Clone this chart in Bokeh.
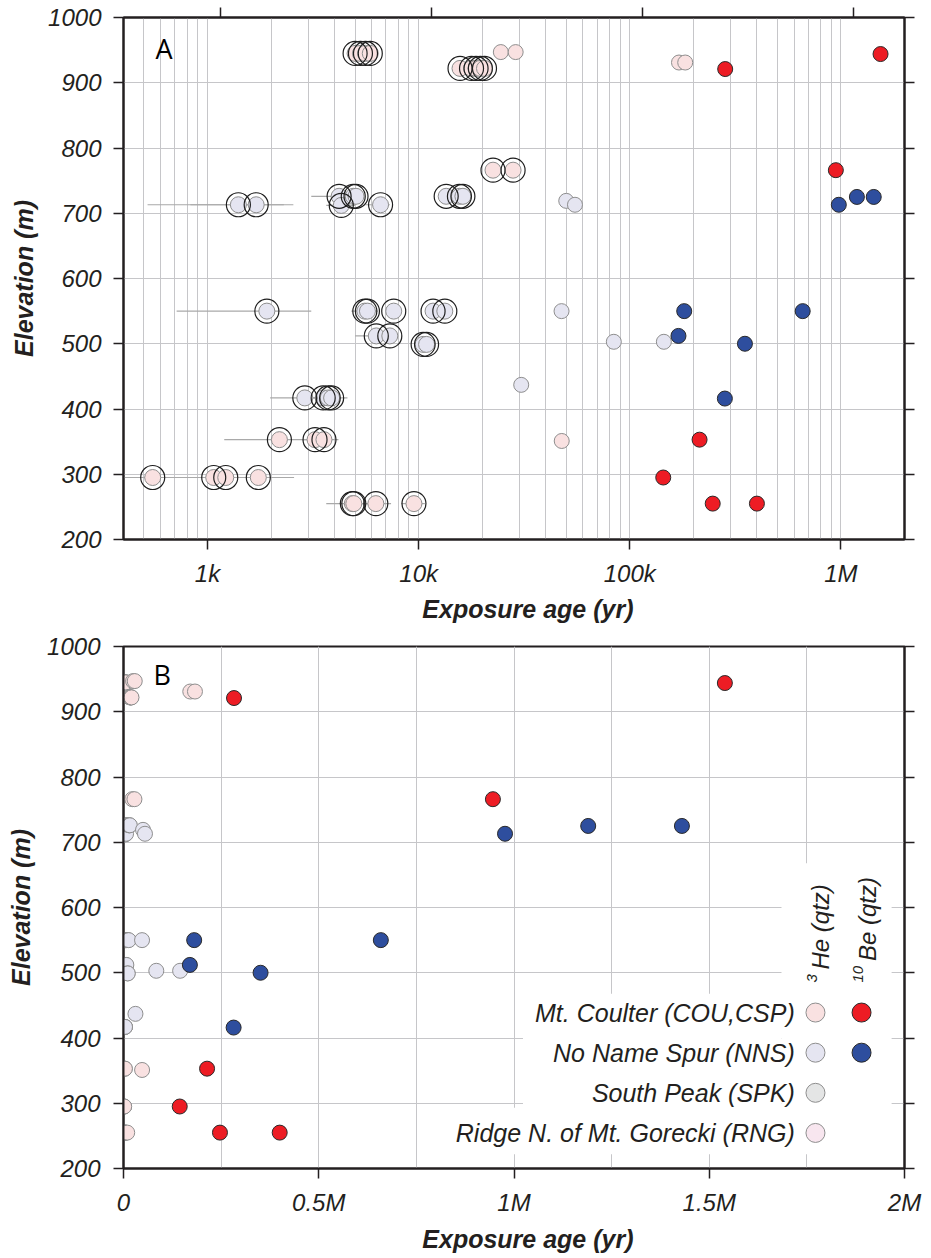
import numpy as np
from bokeh.plotting import figure
from bokeh.models import (Range1d, FixedTicker, LinearAxis, LogAxis, LogScale,
                          ColumnDataSource, CustomJSTickFormatter)
from bokeh.layouts import column
from bokeh.embed import file_html
from bokeh.resources import INLINE
from bokeh.core.properties import value

# ---------------- data ----------------
# 3He (qtz) exposure ages shown with an outer ring in panel A (yr)
he_ring_age = [5000, 5300, 5600, 5900,
               15700, 17800, 18700, 19600, 20500,
               22500, 28000,
               1400, 1700, 4200, 4300, 4900, 5050, 6600, 13500, 15600, 16200,
               1910, 5560, 5720, 7620, 11700, 13300,
               6300, 7300,
               10500, 10900,
               2890, 3530, 3730, 3870,
               2190, 3230, 3560,
               550, 1070, 1220, 1740,
               4850, 4930, 6270, 9500]
he_ring_elev = [945, 945, 945, 945,
                922, 922, 922, 922, 922,
                766, 766,
                713, 713, 726, 712, 726, 726, 713, 726, 726, 726,
                550, 550, 550, 550, 550, 550,
                512, 512,
                499, 499,
                417, 417, 417, 417,
                353, 353, 353,
                295, 295, 295, 295,
                255, 255, 255, 255]
he_ring_site = ["COU", "COU", "COU", "COU",
                "COU", "COU", "COU", "COU", "COU",
                "COU", "COU",
                "NNS", "NNS", "NNS", "NNS", "NNS", "NNS", "NNS", "NNS", "NNS", "NNS",
                "NNS", "NNS", "NNS", "NNS", "NNS", "NNS",
                "NNS", "NNS",
                "NNS", "NNS",
                "NNS", "NNS", "NNS", "NNS",
                "COU", "COU", "COU",
                "COU", "COU", "COU", "COU",
                "COU", "COU", "COU", "COU"]
he_ring_lo = [4500, 5300, 5600, 5900,
              15700, 17800, 18700, 19600, 20500,
              22500, 28000,
              520, 830, 3100, 3650, 4900, 5050, 5600, 13500, 15600, 16200,
              714, 4800, 5720, 7620, 11700, 13300,
              5000, 7300,
              10500, 10900,
              1980, 3530, 3730, 3000,
              1200, 3230, 2800,
              350, 500, 1220, 1100,
              3650, 4930, 5200, 8300]
he_ring_hi = [4500, 5300, 5600, 6400,
              15700, 17800, 18700, 19600, 20500,
              22500, 28000,
              2300, 2550, 5000, 5000, 4900, 5050, 7300, 13500, 15600, 16200,
              3100, 6400, 5720, 7620, 11700, 13300,
              7200, 7300,
              10500, 10900,
              3800, 3530, 3730, 4600,
              3200, 3230, 4170,
              800, 1700, 1220, 2570,
              6000, 4930, 7400, 10700]

# 3He (qtz) exposure ages without ring (yr)
he_age = [24500, 28800, 171000, 183000, 47600,
          50000, 55000, 47500, 84000, 145000, 30600]
he_elev = [947, 947, 931, 931, 351,
           719, 713, 550, 503, 503, 437]
he_site = ["COU", "COU", "COU", "COU", "COU",
           "NNS", "NNS", "NNS", "NNS", "NNS", "NNS"]

# 10Be (qtz) exposure ages (yr)
be_age = [283000, 1540000, 946000, 214000, 144000, 247000, 400000,
          977000, 1190000, 1430000, 181000, 659000, 170000, 351000, 282000]
be_elev = [921, 944, 766, 353, 295, 255, 255,
           713, 725, 725, 550, 550, 512, 500, 416]
be_site = ["COU", "COU", "COU", "COU", "COU", "COU", "COU",
           "NNS", "NNS", "NNS", "NNS", "NNS", "NNS", "NNS", "NNS"]

# axes
elev_ticks = [200, 300, 400, 500, 600, 700, 800, 900, 1000]
log_major = [1e3, 1e4, 1e5, 1e6]
log_major_labels = ["1k", "10k", "100k", "1M"]
log_minor = [500, 600, 700, 800, 900,
             2e3, 3e3, 4e3, 5e3, 6e3, 7e3, 8e3, 9e3,
             2e4, 3e4, 4e4, 5e4, 6e4, 7e4, 8e4, 9e4,
             2e5, 3e5, 4e5, 5e5, 6e5, 7e5, 8e5, 9e5, 2e6]
lin_major = [0, 5e5, 1e6, 1.5e6, 2e6]
lin_major_labels = ["0", "0.5M", "1M", "1.5M", "2M"]
lin_minor = [2.5e5, 7.5e5, 1.25e6, 1.75e6]

# legend
legend_sites = ["Mt. Coulter (COU,CSP)", "No Name Spur (NNS)",
                "South Peak (SPK)", "Ridge N. of Mt. Gorecki (RNG)"]
legend_he_colors = ["#f9e1e1", "#e5e5f1", "#e4e5e5", "#f8e6ef"]
legend_be_colors = ["#ed1c24", "#2e4e9e", None, None]

# ---------------- styles ----------------
FONT = "Liberation Sans"
INK = "#231f20"
GRID = "#c6c6c9"
PALE_LINE = "#8e8e8e"
DARK_LINE = "#2a2a2a"
HE_COLOR = {"COU": "#f9e1e1", "NNS": "#e5e5f1"}
BE_COLOR = {"COU": "#ed1c24", "NNS": "#2e4e9e"}
NB = "\u00a0"
X_LABEL = NB * 4 + "Exposure age (yr)"

blank = CustomJSTickFormatter(code="return ''")


def style_axis(ax, tick_out=10):
    ax.axis_line_width = 2
    ax.axis_line_color = INK
    ax.major_tick_line_width = 1.5
    ax.major_tick_line_color = INK
    ax.major_tick_out = tick_out
    ax.major_tick_in = 0
    ax.minor_tick_line_color = None
    ax.major_label_text_font = FONT
    ax.major_label_text_font_style = "italic"
    ax.major_label_text_font_size = "24px"
    ax.major_label_text_color = INK
    ax.major_label_standoff = 10
    ax.axis_label_text_font = FONT
    ax.axis_label_text_font_style = "bold italic"
    ax.axis_label_text_font_size = "25px"
    ax.axis_label_text_color = INK


def make_fig(height, x_range, y_range, xtype, borders, extra=None):
    kw = dict(width=923, height=height, x_range=x_range, y_range=y_range,
              x_axis_type=xtype, output_backend="svg", toolbar_location=None,
              title=None, min_border_left=borders[0], min_border_right=borders[1],
              min_border_top=borders[2], min_border_bottom=borders[3],
              outline_line_color=INK, outline_line_width=2,
              background_fill_color="white", border_fill_color="white")
    if extra:
        kw.update(extra)
    return figure(**kw)


# ================= Panel A (log) =================
pA = make_fig(628, Range1d(400, 2e6), Range1d(200, 1000), "log", (120, 19, 17, 89),
              extra=dict(extra_x_ranges={"top": Range1d(400 / 1.148, 2e6 / 1.148)},
                         extra_x_scales={"top": LogScale()}))

xt_log = FixedTicker(ticks=log_major, minor_ticks=log_minor)
yt = FixedTicker(ticks=elev_ticks)
pA.xaxis.ticker = xt_log
pA.xaxis.major_label_overrides = {t: l for t, l in zip(log_major, log_major_labels)}
pA.xaxis.axis_label = X_LABEL
pA.yaxis.ticker = yt
pA.yaxis.axis_label = "Elevation (m)"
style_axis(pA.xaxis[0])
style_axis(pA.yaxis[0])
pA.xaxis[0].axis_label_standoff = 5
pA.yaxis[0].major_label_standoff = 12
pA.yaxis[0].axis_label_standoff = 7

pA.xgrid.ticker = xt_log
pA.xgrid.grid_line_color = GRID
pA.xgrid.minor_grid_line_color = GRID
pA.ygrid.ticker = yt
pA.ygrid.grid_line_color = GRID

top_ax = LogAxis(x_range_name="top", ticker=FixedTicker(ticks=log_major), formatter=blank)
style_axis(top_ax, tick_out=10)
top_ax.major_label_standoff = 0
pA.add_layout(top_ax, "above")
right_ax = LinearAxis(ticker=FixedTicker(ticks=elev_ticks), formatter=blank)
style_axis(right_ax)
right_ax.major_label_standoff = 0
pA.add_layout(right_ax, "right")

ring_src = ColumnDataSource(dict(
    age=he_ring_age, elev=he_ring_elev, lo=he_ring_lo, hi=he_ring_hi,
    fill=[HE_COLOR[s] for s in he_ring_site]))
he_src = ColumnDataSource(dict(age=he_age, elev=he_elev,
                               fill=[HE_COLOR[s] for s in he_site]))
be_src = ColumnDataSource(dict(age=be_age, elev=be_elev,
                               fill=[BE_COLOR[s] for s in be_site]))

pA.segment(x0="lo", y0="elev", x1="hi", y1="elev", source=ring_src,
           line_color="#a9a9a9", line_width=1.2)
pA.scatter("age", "elev", source=ring_src, size=16, fill_color="fill",
           line_color=PALE_LINE, line_width=1)
pA.scatter("age", "elev", source=ring_src, size=24, fill_color=None,
           line_color="#1e1e1e", line_width=1.2)
pA.scatter("age", "elev", source=he_src, size=15, fill_color="fill",
           line_color=PALE_LINE, line_width=1)
pA.scatter("age", "elev", source=be_src, size=15, fill_color="fill",
           line_color=DARK_LINE, line_width=1)

pA.text(x=[567], y=[952], text=["A"], text_font=value("Open Sans"),
        text_font_size="27px", text_color="black", text_baseline="alphabetic")

# ================= Panel B (linear) =================
pB = make_fig(629, Range1d(0, 2e6), Range1d(200, 1000), "linear", (123, 18, 18, 89))
xt_lin = FixedTicker(ticks=lin_major, minor_ticks=lin_minor)
pB.xaxis.ticker = xt_lin
pB.xaxis.major_label_overrides = {t: l for t, l in zip(lin_major, lin_major_labels)}
pB.xaxis.axis_label = X_LABEL
pB.yaxis.ticker = yt
pB.yaxis.axis_label = "Elevation (m)"
style_axis(pB.xaxis[0])
style_axis(pB.yaxis[0])
pB.xaxis[0].axis_label_standoff = 6
pB.yaxis[0].major_label_standoff = 13
pB.yaxis[0].axis_label_standoff = 9
pB.xgrid.ticker = xt_lin
pB.xgrid.grid_line_color = GRID
pB.xgrid.minor_grid_line_color = GRID
pB.ygrid.ticker = yt
pB.ygrid.grid_line_color = GRID
right_b = LinearAxis(ticker=FixedTicker(ticks=elev_ticks), formatter=blank)
style_axis(right_b)
right_b.major_label_standoff = 0
pB.add_layout(right_b, "right")

pB.scatter("age", "elev", source=ring_src, size=15, fill_color="fill",
           line_color=PALE_LINE, line_width=1)
pB.scatter("age", "elev", source=he_src, size=15, fill_color="fill",
           line_color=PALE_LINE, line_width=1)
pB.scatter("age", "elev", source=be_src, size=15, fill_color="fill",
           line_color=DARK_LINE, line_width=1)

pB.text(x=[0.0767e6], y=[957], text=["B"], text_font=value("Open Sans"),
        text_font_size="27px", text_color="black", text_baseline="alphabetic")

# legend (white backing, labels, markers)
pB.quad(left=[1.685e6, 1.023e6, 0.836e6], right=[1.967e6, 1.685e6, 1.023e6],
        bottom=[222, 222, 222], top=[668, 468, 293],
        fill_color="white", line_color=None)
row_y = [439, 377.5, 316, 254.5]
pB.text(x=[1.719e6] * 4, y=row_y, text=legend_sites, text_font=value(FONT),
        text_font_style="italic", text_font_size="25px", text_color=INK,
        text_align="right", text_baseline="middle")
pB.scatter(x=[1.772e6] * 4, y=row_y, size=19, fill_color=legend_he_colors,
           line_color=PALE_LINE, line_width=1)
be_rows = [(y, c) for y, c in zip(row_y, legend_be_colors) if c is not None]
pB.scatter(x=[1.890e6] * len(be_rows), y=[r[0] for r in be_rows], size=19,
           fill_color=[r[1] for r in be_rows], line_color=DARK_LINE, line_width=1)
# column headers: 3He (qtz), 10Be (qtz) with superscript mass numbers
pB.text(x=[1.785e6, 1.905e6], y=[505, 518], text=["He (qtz)", "Be (qtz)"],
        angle=np.pi / 2, text_font=value(FONT), text_font_style="italic",
        text_font_size="24px", text_color=INK, text_align="left",
        text_baseline="alphabetic")
pB.text(x=[1.764e6, 1.882e6], y=[485, 485], text=["3", "10"],
        angle=np.pi / 2, text_font=value(FONT), text_font_style="italic",
        text_font_size="15px", text_color=INK, text_align="left",
        text_baseline="alphabetic")

layout = column(pA, pB)
open("out.html", "w").write(file_html(layout, INLINE))
